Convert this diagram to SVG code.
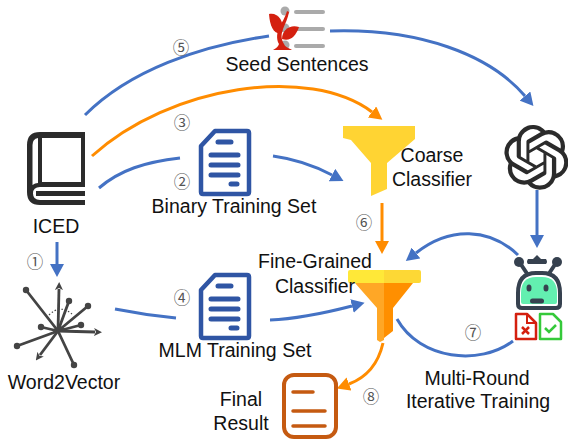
<svg xmlns="http://www.w3.org/2000/svg" width="568" height="439" viewBox="0 0 568 439">
<style>
text{font-family:"Liberation Sans",Arial,sans-serif;font-size:19.500px;fill:#111;text-anchor:middle}
text.n{font-family:"Noto Sans CJK JP","DejaVu Sans",sans-serif;font-size:16.500px;fill:#555}
.b{fill:none;stroke:#4472C4;stroke-width:3}
.o{fill:none;stroke:#FF8C00;stroke-width:3}
.d{fill:#fff;stroke:#2F55A4;stroke-width:4.500;stroke-linejoin:round}
.dl{stroke:#2F55A4;stroke-width:5;stroke-linecap:round}
.v{stroke:#444;stroke-width:2.800;fill:none}
.vd{fill:#444}
</style>
<defs>
<marker id="ab" markerUnits="userSpaceOnUse" markerWidth="14" markerHeight="14" refX="0" refY="7" orient="auto"><path d="M0 0L13 7L0 14Z" fill="#4472C4"/></marker>
<marker id="ao" markerUnits="userSpaceOnUse" markerWidth="14" markerHeight="14" refX="0" refY="7" orient="auto"><path d="M0 0L13 7L0 14Z" fill="#FF8C00"/></marker>
<marker id="av" markerUnits="userSpaceOnUse" markerWidth="8" markerHeight="8" refX="1" refY="4" orient="auto"><path d="M0 0L8 4L0 8L2 4Z" fill="#444"/></marker>
</defs>
<g id="connectors">
<path class="b" d="M85 115C130 70 200 46 269 36"/>
<path class="b" d="M330 31C420 28 490 55 525 96" marker-end="url(#ab)"/>
<path class="o" d="M92 156C170 85 310 65 372 112" marker-end="url(#ao)"/>
<path class="b" d="M99 188C120 170 145 162 180 158"/>
<path class="b" d="M273 156C295 159 315 166 332 175" marker-end="url(#ab)"/>
<path class="o" d="M382 203V241" marker-end="url(#ao)"/>
<path class="b" d="M537 190V235" marker-end="url(#ab)"/>
<path class="b" d="M518 255C490 228 450 226 416 253" marker-end="url(#ab)"/>
<path class="b" d="M513 341C480 366 420 360 397 319"/>
<path class="b" d="M57 242V264" marker-end="url(#ab)"/>
<path class="b" d="M115 309C135 313 155 316 176 318"/>
<path class="b" d="M270 320C295 319 325 313 352 306" marker-end="url(#ab)"/>
<path class="o" d="M383 343C378 365 365 378 349 384" marker-end="url(#ao)"/>
</g>
<g id="seed">
<g fill="#aaa"><circle cx="285" cy="11" r="4.500"/><circle cx="285" cy="28" r="4.500"/><circle cx="285" cy="45" r="4.500"/>
<rect x="294" y="10" width="31" height="4" rx="2"/><rect x="294" y="27" width="31" height="4" rx="2"/><rect x="294" y="44" width="31" height="4" rx="2"/></g>
<path d="M287 11C285 18 282 22 279 28C276 35 277 41 279 44C278 47 276 48 273 50H292C289 48 285 47 284 44C281 39 281 34 283 29C285 24 288 18 289 12Z" fill="#D4200F"/>
<path d="M269 14C277 12 285 20 282 33C274 35 270 27 269 14Z" fill="#D4200F"/>
<path d="M299 27C291 24 282 29 282 39C290 42 296 36 299 27Z" fill="#D4200F"/>
<text x="297" y="71">Seed Sentences</text>
</g>
<g id="iced">
<path d="M85 132H40Q27 132 27 145V192Q27 205 40 205H85V200H40Q33 200 33 193.500Q33 187 40 187H85ZM38 138V183Q35 183 32.500 185V145Q32.500 139 38 138ZM42 138H81V182H42Z" fill="#2b2b2b" fill-rule="evenodd"/>
<rect x="36" y="191" width="49" height="5" fill="#2b2b2b"/>
<text x="56" y="233">ICED</text>
</g>
<g id="binary">
<path class="d" d="M215 131H247Q249 131 249 133V192Q249 194 247 194H203Q201 194 201 192V146Z"/>
<path class="dl" d="M218 142H231M211 155H238M211 165H238M211 175H238M231 184H237"/>
<text x="234" y="213">Binary Training Set</text>
</g>
<g id="mlm">
<path class="d" d="M215 275H247Q249 275 249 277V336Q249 338 247 338H203Q201 338 201 336V290Z"/>
<path class="dl" d="M218 286H231M211 299H238M211 309H238M211 319H238M231 328H237"/>
<text x="235" y="357">MLM Training Set</text>
</g>
<g id="word2vector">
<g class="v"><path d="M58 331L26 290M58 331L69 301M58 331L88 306M58 331L81 325M58 331L74 365M58 331L17 346M58 331L41 327"/>
<path d="M58 331L59 289" marker-end="url(#av)"/><path d="M58 331L95 332" marker-end="url(#av)"/><path d="M58 331L40 355" marker-end="url(#av)"/>
<path d="M49 315Q60 304 72 314" stroke-width="1.200" stroke-dasharray="1.500 2"/></g>
<g class="vd"><circle cx="26" cy="290" r="3.200"/><circle cx="69" cy="301" r="3.200"/><circle cx="88" cy="306" r="3.200"/><circle cx="81" cy="325" r="3.200"/><circle cx="74" cy="365" r="3.200"/><circle cx="17" cy="346" r="3.200"/><circle cx="41" cy="327" r="3.200"/></g>
<text x="64" y="389">Word2Vector</text>
</g>
<g id="coarse">
<path d="M343 126H415V139L387 163V189L371 196V163L351 140L343 138Z" fill="#FFD433"/>
<text x="432" y="162">Coarse</text><text x="432" y="186">Classifier</text>
</g>
<g id="openai">
<path transform="translate(504 125) scale(2.700)" fill="#2b2b2b" d="M22.2819 9.8211a5.9847 5.9847 0 0 0-.5157-4.9108 6.0462 6.0462 0 0 0-6.5098-2.9A6.0651 6.0651 0 0 0 4.9807 4.1818a5.9847 5.9847 0 0 0-3.9977 2.9 6.0462 6.0462 0 0 0 .7427 7.0966 5.98 5.98 0 0 0 .511 4.9107 6.051 6.051 0 0 0 6.5146 2.9001A5.9847 5.9847 0 0 0 13.2599 24a6.0557 6.0557 0 0 0 5.7718-4.2058 5.9894 5.9894 0 0 0 3.9977-2.9001 6.0557 6.0557 0 0 0-.7475-7.0729zm-9.022 12.6081a4.4755 4.4755 0 0 1-2.8764-1.0408l.1419-.0804 4.7783-2.7582a.7948.7948 0 0 0 .3927-.6813v-6.7369l2.02 1.1686a.071.071 0 0 1 .038.052v5.5826a4.504 4.504 0 0 1-4.4945 4.4944zm-9.6607-4.1254a4.4708 4.4708 0 0 1-.5346-3.0137l.142.0852 4.783 2.7582a.7712.7712 0 0 0 .7806 0l5.8428-3.3685v2.3324a.0804.0804 0 0 1-.0332.0615L9.74 19.9502a4.4992 4.4992 0 0 1-6.1408-1.6464zM2.3408 7.8956a4.485 4.485 0 0 1 2.3655-1.9728V11.6a.7664.7664 0 0 0 .3879.6765l5.8144 3.3543-2.0201 1.1685a.0757.0757 0 0 1-.071 0l-4.8303-2.7865A4.504 4.504 0 0 1 2.3408 7.872zm16.5963 3.8558L13.1038 8.364 15.1192 7.2a.0757.0757 0 0 1 .071 0l4.8303 2.7913a4.4944 4.4944 0 0 1-.6765 8.1042v-5.6772a.79.79 0 0 0-.407-.667zm2.0107-3.0231l-.142-.0852-4.7735-2.7818a.7759.7759 0 0 0-.7854 0L9.409 9.2297V6.8974a.0662.0662 0 0 1 .0284-.0615l4.8303-2.7866a4.4992 4.4992 0 0 1 6.6802 4.66zM8.3065 12.863l-2.02-1.1638a.0804.0804 0 0 1-.038-.0567V6.0742a4.4992 4.4992 0 0 1 7.3757-3.4537l-.142.0805L8.704 5.459a.7948.7948 0 0 0-.3927.6813zm1.0976-2.3654l2.602-1.4998 2.6069 1.4998v2.9994l-2.5974 1.4997-2.6067-1.4997Z"/>
</g>
<g id="fine">
<path d="M355 283H384V340L380 342L377 340V308Z" fill="#FFA726"/>
<path d="M384 283H413L393 308V331L384 338Z" fill="#FF8F00"/>
<path d="M350 270H384V283H350Q348 283 348 281V272Q348 270 350 270Z" fill="#FFE838"/>
<path d="M384 270H419Q421 270 421 272V281Q421 283 419 283H384Z" fill="#FDD835"/>
<text x="315" y="268">Fine-Grained</text><text x="315" y="293">Classifier</text>
</g>
<g id="robot">
<g fill="#36414F"><circle cx="519" cy="262" r="5"/><circle cx="557" cy="262" r="5"/><path d="M533 259L537 255L541 259H546Q548 262 546 264H528Q526 262 528 259Z"/></g>
<path d="M520 263L528 275M556 263L548 275" stroke="#36414F" stroke-width="4" fill="none"/>
<path d="M522 308Q518 308 518 304V293Q518 273 536 273H542Q560 273 560 293V304Q560 308 556 308Z" fill="#fff" stroke="#36414F" stroke-width="4" stroke-linejoin="round"/>
<path d="M523 304Q521 304 521 302V293Q521 277 536 277H542Q557 277 557 293V302Q557 304 555 304Z" fill="#63EFB0"/>
<g fill="#36414F"><ellipse cx="529" cy="288" rx="2.500" ry="3.500"/><ellipse cx="546" cy="288" rx="2.500" ry="3.500"/><rect x="530" y="298.500" width="14" height="5" rx="2.500"/></g>
<path d="M516 314H527L536 323V339H516Z" fill="#fff" stroke="#D4200F" stroke-width="2.500" stroke-linejoin="round"/>
<path d="M527 314V323H536" fill="none" stroke="#D4200F" stroke-width="2"/>
<path d="M522 327L529 334M529 327L522 334" stroke="#D4200F" stroke-width="2.500"/>
<path d="M540 314H553L561 322V339H540Z" fill="#fff" stroke="#35C93A" stroke-width="2.500" stroke-linejoin="round"/>
<path d="M545 328L549 332L556 325" fill="none" stroke="#35C93A" stroke-width="2.500"/>
<text x="477" y="385">Multi-Round</text><text x="478" y="408">Iterative Training</text>
</g>
<g id="final">
<rect x="284" y="375" width="52" height="62" rx="10" fill="#fff" stroke="#C55A11" stroke-width="4"/>
<path d="M293 392H313M293 411H325M293 426H325" stroke="#C55A11" stroke-width="3.500" stroke-linecap="round"/>
<text x="241" y="406">Final</text><text x="241" y="430">Result</text>
</g>
<g id="step-labels">
<text class="n" x="181" y="54">⑤</text>
<text class="n" x="182" y="129">③</text>
<text class="n" x="182" y="188">②</text>
<text class="n" x="35" y="268">①</text>
<text class="n" x="182" y="304">④</text>
<text class="n" x="364" y="229">⑥</text>
<text class="n" x="473" y="339">⑦</text>
<text class="n" x="371" y="403">⑧</text>
</g>
</svg>
